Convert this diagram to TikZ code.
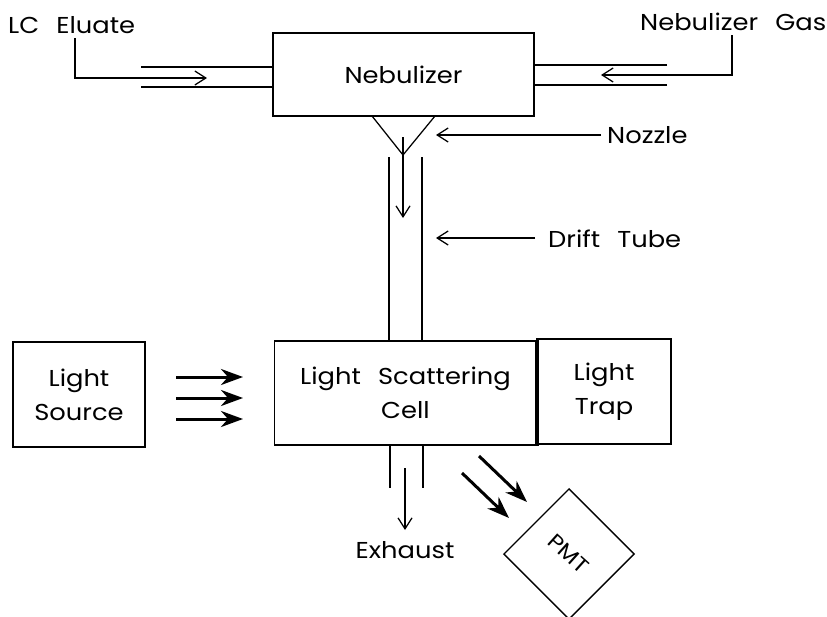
\documentclass[tikz,border=0pt]{standalone}
\usepackage{fontspec}
\setmainfont[WordSpace=2.5,FakeStretch=1.12]{Poppins}
\usetikzlibrary{arrows.meta}
\tikzset{
  x=1pt,y=-1pt,
  thin line/.style={line width=1.25pt,line cap=butt},
  open arrow/.style={thin line,-{Straight Barb[length=11pt,width=14pt,line width=1.25pt]}},
  beam arrow/.style={line width=3pt,-{Stealth[length=22pt,width=16pt,inset=7pt]}},
  block/.style={draw,line width=1.35pt,inner sep=0,align=center,font=\fontsize{23}{34}\selectfont},
  label text/.style={inner sep=0,font=\fontsize{23}{34}\selectfont},
}
\begin{document}
\begin{tikzpicture}
\useasboundingbox (0,0) rectangle (827,616);
% blocks
\node[block,minimum width=261pt,minimum height=83pt] (neb) at (403.5,74.5) {Nebulizer};
\node[block,minimum width=132pt,minimum height=105pt] (source) at (79,394.5) {Light\\Source};
\node[block,minimum width=262pt,minimum height=104pt] (cell) at (405.5,393) {Light Scattering\\Cell};
\node[block,minimum width=134pt,minimum height=105pt] (trap) at (604,391.5) {Light\\Trap};
\draw[line width=3.5pt] (cell.north east) -- (cell.south east);
\node[block,minimum width=92pt,minimum height=92pt,rotate=-45] (pmt) at (569,554) {};
\node[label text,rotate=-42,font=\fontsize{21}{24}\selectfont] (pmtlabel) at (pmt.center) {PMT};
% labels
\node[label text,anchor=base west] (lc) at (8,33) {LC Eluate};
\node[label text,anchor=base west] (gas) at (640,30) {Nebulizer Gas};
\node[label text,anchor=base west] (nozzle) at (607,143) {Nozzle};
\node[label text,anchor=base west] (drift) at (548,247) {Drift Tube};
\node[label text,anchor=base] (exhaust) at (405,558) {Exhaust};
% free ends
\coordinate (lcA) at (75,38);
\coordinate (lcB) at (75,78);
\coordinate (lcC) at (207,78);
\coordinate (lt1) at (141,67);
\coordinate (lt2) at (141,87);
\coordinate (rt1) at (667,65);
\coordinate (rt2) at (667,85);
\coordinate (gsA) at (732,35);
\coordinate (gsB) at (732,75);
\coordinate (gsC) at (601,75);
\coordinate (nzL) at (372,116);
\coordinate (nzR) at (435,116);
\coordinate (nzT) at (403,155);
\coordinate (nzS) at (403,137);
\coordinate (nzE) at (403,218);
\coordinate (tubeL) at (389,157);
\coordinate (tubeR) at (422,157);
\coordinate (nzTip) at (436,135);
\coordinate (drTip) at (436,238);
\coordinate (exL) at (390,488);
\coordinate (exR) at (423,488);
\coordinate (exS) at (405,468);
\coordinate (exE) at (405,530);
% inlet tubes
\draw[thin line] (lt1) -- (neb.west |- lt1);
\draw[thin line] (lt2) -- (neb.west |- lt2);
\draw[thin line] (rt1) -- (neb.east |- rt1);
\draw[thin line] (rt2) -- (neb.east |- rt2);
\draw[open arrow] (lcA) -- (lcB) -- (lcC);
\draw[open arrow] (gsA) -- (gsB) -- (gsC);
% nozzle and drift tube
\draw[thin line] (nzL) -- (nzT) -- (nzR);
\draw[open arrow] (nzS) -- (nzE);
\draw[thin line] (tubeL) -- (tubeL |- cell.north);
\draw[thin line] (tubeR) -- (tubeR |- cell.north);
\draw[open arrow] ([xshift=-6pt]nozzle.west |- nzTip) -- (nzTip);
\draw[open arrow] ([xshift=-13pt]drift.west |- drTip) -- (drTip);
% exhaust
\draw[thin line] (exL |- cell.south) -- (exL);
\draw[thin line] (exR |- cell.south) -- (exR);
\draw[open arrow] (exS) -- (exE);
% beams
\coordinate (b1s) at (176,377); \coordinate (b1e) at (243,377);
\coordinate (b2s) at (176,398); \coordinate (b2e) at (243,398);
\coordinate (b3s) at (176,419); \coordinate (b3e) at (243,419);
\draw[beam arrow] (b1s) -- (b1e);
\draw[beam arrow] (b2s) -- (b2e);
\draw[beam arrow] (b3s) -- (b3e);
\coordinate (d1s) at (479,456); \coordinate (d1e) at (527,502);
\coordinate (d2s) at (462,473); \coordinate (d2e) at (509,518);
\draw[beam arrow] (d1s) -- (d1e);
\draw[beam arrow] (d2s) -- (d2e);
\end{tikzpicture}
\end{document}
